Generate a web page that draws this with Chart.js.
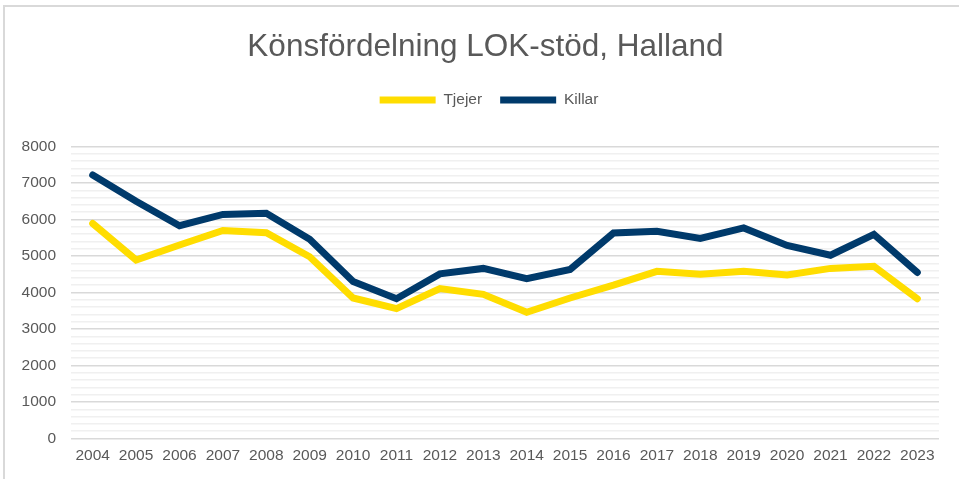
<!DOCTYPE html>
<html>
<head>
<meta charset="utf-8">
<script src="https://cdn.jsdelivr.net/npm/chart.js@4/dist/chart.umd.min.js"></script>
<style>
  body { margin: 0; background: #fff; }
  #frame { position: absolute; left: 3px; top: 5px; width: 980px; height: 500px;
           border-left: 2px solid #d9d9d9; border-top: 2px solid #d9d9d9; }
  #wrap { position: absolute; left: 0; top: 0; width: 959px; height: 479px; }
</style>
</head>
<body>
<div id="frame"></div>
<div id="wrap"><canvas id="myChart" width="959" height="479"></canvas></div>
<script>
// Values
const years = ["2004", "2005", "2006", "2007", "2008", "2009", "2010", "2011", "2012", "2013",
               "2014", "2015", "2016", "2017", "2018", "2019", "2020", "2021", "2022", "2023"];
const tjejer = [5890, 4890, 5300, 5700, 5640, 4980, 3850, 3560, 4110, 3950,
                3460, 3850, 4200, 4580, 4500, 4580, 4480, 4660, 4720, 3830];
const killar = [7220, 6500, 5830, 6140, 6170, 5460, 4300, 3830, 4510, 4660,
                4380, 4630, 5630, 5680, 5480, 5770, 5290, 5020, 5590, 4550];

const textColor = "#595959";
const fontFamily = "'Liberation Sans', Arial, sans-serif";

// extra space under the legend, and title/legend centred a bit to the right
const layoutTweaks = {
  id: "layoutTweaks",
  beforeInit(chart) {
    const fitValue = chart.legend.fit;
    chart.legend.fit = function () {
      fitValue.bind(chart.legend)();
      this.height += 28.75;
    };
  },
  afterLayout(chart) {
    chart.titleBlock.left += 32;
    chart.legend.left += 39;
  }
};

const ctx = document.getElementById("myChart").getContext("2d");
const chart = new Chart(ctx, {
  type: "line",
  data: {
    labels: years,
    datasets: [
      {
        label: "Tjejer",
        data: tjejer,
        borderColor: "#ffdd00",
        backgroundColor: "#ffdd00",
        borderWidth: 7,
        borderCapStyle: "round",
        pointRadius: 0,
        tension: 0
      },
      {
        label: "Killar",
        data: killar,
        borderColor: "#003a6b",
        backgroundColor: "#003a6b",
        borderWidth: 7,
        borderCapStyle: "round",
        pointRadius: 0,
        tension: 0
      }
    ]
  },
  options: {
    responsive: false,
    animation: false,
    layout: { padding: { top: 0, left: 0, right: 20, bottom: 13.1 } },
    plugins: {
      title: {
        display: true,
        text: "Könsfördelning LOK-stöd, Halland",
        color: textColor,
        font: { family: fontFamily, size: 31.5, weight: "normal" },
        padding: { top: 28, bottom: 8.45 }
      },
      legend: {
        position: "top",
        labels: {
          usePointStyle: true,
          pointStyle: "line",
          pointStyleWidth: 56,
          padding: 18,
          color: textColor,
          font: { family: fontFamily, size: 15.5 }
        }
      },
      tooltip: { enabled: false }
    },
    scales: {
      x: {
        offset: true,
        grid: { display: false },
        border: { display: false },
        ticks: {
          color: textColor,
          font: { family: fontFamily, size: 15.5 },
          padding: 0.4,
          maxRotation: 0,
          autoSkip: false
        }
      },
      y: {
        min: 0,
        max: 8000,
        afterFit(scale) { scale.width = 71; },
        border: { display: false },
        grid: {
          drawTicks: false,
          lineWidth: 1.5,
          color: (c) => (c.tick && c.tick.value % 1000 === 0 ? "#d9d9d9" : "#f0f0f0")
        },
        ticks: {
          stepSize: 200,
          autoSkip: false,
          padding: 15,
          color: textColor,
          font: { family: fontFamily, size: 15.5 },
          callback: (v) => (v % 1000 === 0 ? v : "")
        }
      }
    }
  },
  plugins: [layoutTweaks]
});
</script>
</body>
</html>
